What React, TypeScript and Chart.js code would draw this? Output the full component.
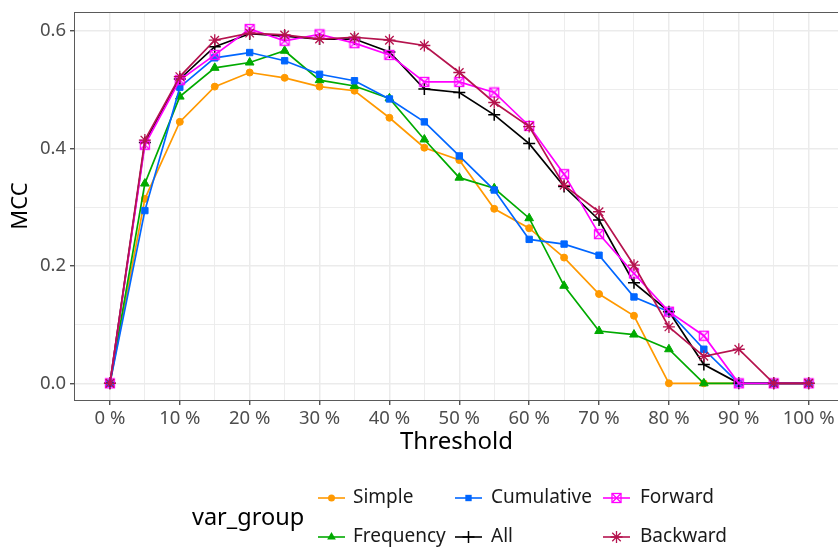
import React, { useEffect, useRef } from "react";
import { Chart, registerables } from "chart.js";

Chart.register(...registerables);

const thresholds = [0, 5, 10, 15, 20, 25, 30, 35, 40, 45, 50, 55, 60, 65, 70, 75, 80, 85, 90, 95, 100];
const simple = [0, 0.314, 0.445, 0.505, 0.529, 0.52, 0.505, 0.498, 0.452, 0.401, 0.38, 0.297, 0.264, 0.214, 0.152, 0.115, 0, 0, 0, 0, 0];
const frequency = [0, 0.34, 0.488, 0.537, 0.546, 0.566, 0.516, 0.506, 0.485, 0.415, 0.35, 0.332, 0.281, 0.166, 0.089, 0.083, 0.058, 0, 0, 0, 0];
const cumulative = [0, 0.294, 0.504, 0.554, 0.563, 0.549, 0.526, 0.515, 0.484, 0.445, 0.387, 0.329, 0.245, 0.237, 0.218, 0.147, 0.122, 0.058, 0, 0, 0];
const all = [0, 0.41, 0.518, 0.573, 0.595, 0.591, 0.586, 0.586, 0.564, 0.501, 0.495, 0.457, 0.408, 0.335, 0.278, 0.171, 0.122, 0.032, 0, 0, 0];
const forward = [0, 0.406, 0.516, 0.559, 0.603, 0.583, 0.594, 0.579, 0.559, 0.513, 0.513, 0.495, 0.438, 0.356, 0.254, 0.187, 0.122, 0.081, 0, 0, 0];
const backward = [0, 0.414, 0.522, 0.584, 0.596, 0.593, 0.586, 0.589, 0.584, 0.575, 0.529, 0.478, 0.437, 0.337, 0.292, 0.201, 0.096, 0.046, 0.058, 0, 0];

const seriesNames = ["Simple", "Frequency", "Cumulative", "All", "Forward", "Backward"];
const seriesValues = [simple, frequency, cumulative, all, forward, backward];
const seriesColors = ["#FF9900", "#00AA00", "#0066FF", "#000000", "#FF00FF", "#B5134E"];
const seriesMarkers = ["circle", "triangle", "rect", "cross", "squareX", "star"];

const yTickValues = [0, 0.1, 0.2, 0.3, 0.4, 0.5, 0.6];
const xTickValues = thresholds;

const FONT = "'Noto Sans', 'Open Sans', sans-serif";

function markerRadius(m: string) {
  switch (m) {
    case "circle": return 3.5;
    case "triangle": return 5;
    case "rect": return 4.5;
    case "cross": return 6;
    case "star": return 6;
    default: return 5;
  }
}

function makeSquareX(color: string) {
  const c = document.createElement("canvas");
  c.width = 12;
  c.height = 12;
  const g = c.getContext("2d")!;
  g.strokeStyle = color;
  g.lineWidth = 1.3;
  g.strokeRect(1.5, 1.5, 9, 9);
  g.beginPath();
  g.moveTo(1.5, 1.5);
  g.lineTo(10.5, 10.5);
  g.moveTo(10.5, 1.5);
  g.lineTo(1.5, 10.5);
  g.stroke();
  return c;
}

function drawMarker(ctx: CanvasRenderingContext2D, m: string, x: number, y: number, color: string) {
  ctx.save();
  ctx.fillStyle = color;
  ctx.strokeStyle = color;
  const r = markerRadius(m);
  ctx.beginPath();
  if (m === "circle") {
    ctx.arc(x, y, r, 0, Math.PI * 2);
    ctx.fill();
  } else if (m === "triangle") {
    ctx.moveTo(x, y - r);
    ctx.lineTo(x + r * 0.866, y + r * 0.5);
    ctx.lineTo(x - r * 0.866, y + r * 0.5);
    ctx.closePath();
    ctx.fill();
  } else if (m === "rect") {
    const s = r * Math.SQRT1_2;
    ctx.rect(x - s, y - s, 2 * s, 2 * s);
    ctx.fill();
  } else if (m === "cross") {
    ctx.lineWidth = 1.5;
    ctx.moveTo(x - r, y);
    ctx.lineTo(x + r, y);
    ctx.moveTo(x, y - r);
    ctx.lineTo(x, y + r);
    ctx.stroke();
  } else if (m === "star") {
    ctx.lineWidth = 1.3;
    const d = r * Math.SQRT1_2;
    ctx.moveTo(x - r, y);
    ctx.lineTo(x + r, y);
    ctx.moveTo(x, y - r);
    ctx.lineTo(x, y + r);
    ctx.moveTo(x - d, y - d);
    ctx.lineTo(x + d, y + d);
    ctx.moveTo(x + d, y - d);
    ctx.lineTo(x - d, y + d);
    ctx.stroke();
  } else if (m === "squareX") {
    ctx.lineWidth = 1.3;
    ctx.strokeRect(x - 4.5, y - 4.5, 9, 9);
    ctx.moveTo(x - 4.5, y - 4.5);
    ctx.lineTo(x + 4.5, y + 4.5);
    ctx.moveTo(x + 4.5, y - 4.5);
    ctx.lineTo(x - 4.5, y + 4.5);
    ctx.stroke();
  }
  ctx.restore();
}

const panelBorderPlugin = {
  id: "panelBorder",
  afterDatasetsDraw(chart: any) {
    const { ctx, chartArea } = chart;
    ctx.save();
    ctx.strokeStyle = "#5a5a5a";
    ctx.lineWidth = 1;
    ctx.strokeRect(Math.round(chartArea.left) - 0.5, Math.round(chartArea.top) + 0.5, chartArea.right - chartArea.left + 10, Math.round(chartArea.bottom - chartArea.top));
    ctx.restore();
  },
};

const legendPlugin = {
  id: "ggLegend",
  afterDraw(chart: any) {
    const ctx: CanvasRenderingContext2D = chart.ctx;
    ctx.save();
    ctx.fillStyle = "#000000";
    ctx.font = `23.5px ${FONT}`;
    ctx.textBaseline = "middle";
    ctx.textAlign = "left";
    ctx.fillText("var_group", 192, 518);
    const keyX = [318, 455, 603];
    const textX = [353, 491, 640];
    const rowY = [498, 537];
    ctx.font = `19px ${FONT}`;
    seriesNames.forEach((name, i) => {
      const col = Math.floor(i / 2);
      const row = i % 2;
      const y = rowY[row];
      const x0 = keyX[col];
      ctx.save();
      ctx.strokeStyle = seriesColors[i];
      ctx.lineWidth = 1.6;
      ctx.beginPath();
      ctx.moveTo(x0, y);
      ctx.lineTo(x0 + 27, y);
      ctx.stroke();
      ctx.restore();
      drawMarker(ctx, seriesMarkers[i], x0 + 13.5, y, seriesColors[i]);
      ctx.fillStyle = "#1a1a1a";
      ctx.fillText(name, textX[col], y);
    });
    ctx.restore();
  },
};

function zeroPadding(scale: any) {
  scale.paddingLeft = 0;
  scale.paddingRight = 0;
  scale.paddingTop = 0;
  scale.paddingBottom = 0;
}

export default function App() {
  const canvasRef = useRef<HTMLCanvasElement | null>(null);

  useEffect(() => {
    const canvas = canvasRef.current;
    if (!canvas) return;
    const datasets = seriesNames.map((name, i) => {
      const m = seriesMarkers[i];
      const color = seriesColors[i];
      return {
        label: name,
        data: thresholds.map((t, j) => ({ x: t, y: seriesValues[i][j] })),
        borderColor: color,
        backgroundColor: color,
        borderWidth: 1.7,
        pointStyle: m === "squareX" ? makeSquareX(color) : m,
        pointRadius: markerRadius(m),
        pointHoverRadius: markerRadius(m),
        pointBorderWidth: m === "cross" ? 1.5 : m === "star" ? 1.3 : 1,
        pointBackgroundColor: color,
        pointBorderColor: color,
        tension: 0,
        order: seriesNames.length - i,
      };
    });

    const chart = new Chart(canvas, {
      type: "line",
      data: { datasets },
      options: {
        responsive: false,
        animation: false,
        maintainAspectRatio: false,
        layout: { autoPadding: false, padding: { left: 0, right: 0, top: 12, bottom: 88 } },
        plugins: {
          legend: { display: false },
          tooltip: { enabled: false },
        },
        scales: {
          x: {
            type: "linear",
            min: -5,
            max: 104.2,
            afterFit: (scale: any) => { scale.height = 60; zeroPadding(scale); },
            afterBuildTicks: (scale: any) => { scale.ticks = xTickValues.map((v) => ({ value: v })); },
            border: { display: false },
            grid: {
              color: "#EBEBEB",
              lineWidth: (c: any) => (c.tick && c.tick.value % 10 === 0 ? 1.5 : 0.9),
              drawTicks: true,
              tickLength: 5,
              tickColor: (c: any) => (c.tick && c.tick.value % 10 === 0 ? "#333333" : "rgba(0,0,0,0)"),
              tickWidth: 1.2,
            },
            ticks: {
              autoSkip: false,
              maxRotation: 0,
              minRotation: 0,
              padding: 3,
              color: "#4D4D4D",
              font: { family: FONT, size: 18.5 },
              callback: (v: any) => (Number(v) % 10 === 0 ? `${v} %` : ""),
            },
            title: {
              display: true,
              text: "Threshold",
              color: "#000000",
              font: { family: FONT, size: 24 },
              padding: { top: 0, bottom: 3 },
            },
          },
          y: {
            type: "linear",
            min: -0.0284,
            max: 0.632,
            afterFit: (scale: any) => { scale.width = 75; zeroPadding(scale); },
            afterBuildTicks: (scale: any) => { scale.ticks = yTickValues.map((v) => ({ value: v })); },
            border: { display: false },
            grid: {
              color: "#EBEBEB",
              lineWidth: (c: any) => (c.tick && Math.round(c.tick.value * 10) % 2 === 0 ? 1.5 : 0.9),
              drawTicks: true,
              tickLength: 5,
              tickColor: (c: any) => (c.tick && Math.round(c.tick.value * 10) % 2 === 0 ? "#333333" : "rgba(0,0,0,0)"),
              tickWidth: 1.2,
            },
            ticks: {
              padding: 4,
              color: "#4D4D4D",
              font: { family: FONT, size: 18.5 },
              callback: (v: any) => (Math.round(Number(v) * 10) % 2 === 0 ? Number(v).toFixed(1) : ""),
            },
            title: {
              display: true,
              text: "MCC",
              color: "#000000",
              font: { family: FONT, size: 22 },
              padding: { top: 8, bottom: 0 },
            },
          },
        },
      },
      plugins: [panelBorderPlugin, legendPlugin],
    } as any);

    return () => chart.destroy();
  }, []);

  return (
    <div style={{ position: "fixed", left: 0, top: 0, width: 838, height: 548, background: "#ffffff" }}>
      <canvas ref={canvasRef} width={838} height={548} style={{ display: "block", width: 838, height: 548 }} />
    </div>
  );
}
